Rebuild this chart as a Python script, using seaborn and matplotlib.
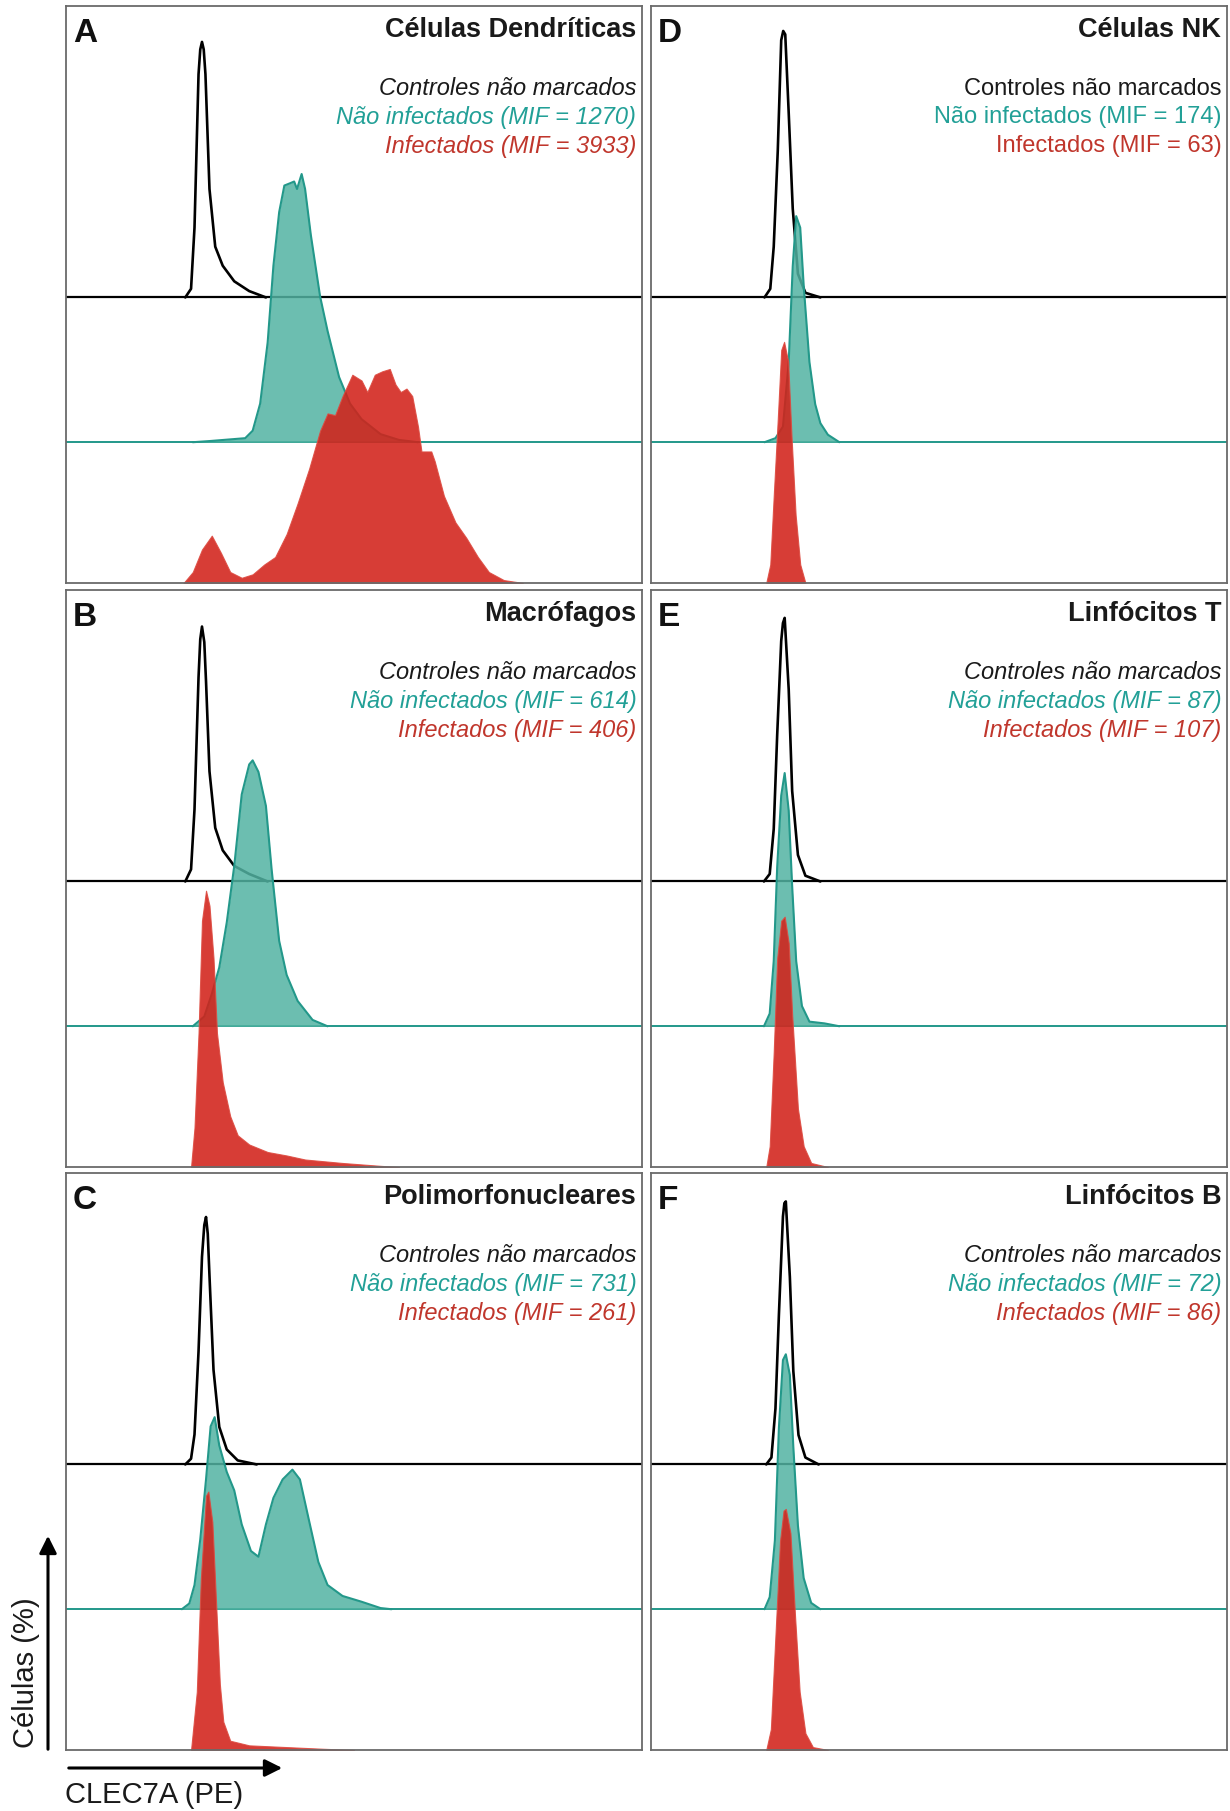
import matplotlib
matplotlib.use("Agg")
import matplotlib.pyplot as plt
import seaborn as sns

sns.set_style("white")
plt.rcParams["font.family"] = ["Liberation Sans", "DejaVu Sans"]
plt.rcParams["lines.solid_joinstyle"] = "round"
plt.rcParams["lines.solid_capstyle"] = "round"

letters = ["A", "B", "C", "D", "E", "F"]
titles = ["Células Dendríticas", "Macrófagos", "Polimorfonucleares",
          "Células NK", "Linfócitos T", "Linfócitos B"]
mif_uninf = [1270, 614, 731, 174, 87, 72]
mif_inf = [3933, 406, 261, 63, 107, 86]
italic_legend = [True, True, True, False, True, True]

# histogram outlines
# x = CLEC7A (PE) position, % of panel width ; y = cells, % of panel height
A_ctrl_x = [20.7, 21.7, 22.3, 23.0, 23.3, 23.6, 23.9, 24.2, 24.9, 25.9, 27.2, 29.2, 31.8, 34.7]
A_ctrl_y = [0, 1.5, 12.1, 38.7, 43.0, 44.3, 43.0, 38.7, 18.8, 8.8, 5.5, 2.8, 1.1, 0]
A_uninf_x = [22.0, 24.9, 31.1, 32.4, 33.7, 35.0, 36.0, 37.0, 37.9, 38.9, 39.6, 40.1, 40.9,
             41.5, 42.5, 44.1, 45.4, 47.4, 49.3, 51.3, 54.6, 57.8, 61.1]
A_uninf_y = [0, 0.2, 0.7, 2.0, 6.7, 17.3, 30.6, 39.9, 44.5, 44.9, 45.2, 43.9, 46.5,
             43.9, 35.9, 25.3, 19.3, 11.3, 6.7, 4.0, 1.4, 0.4, 0]
A_inf_x = [20.4, 22.0, 23.6, 25.3, 26.9, 28.5, 30.5, 32.4, 34.4, 36.3, 38.3, 40.2, 42.2,
           44.1, 45.4, 46.7, 48.0, 49.7, 51.3, 52.3, 53.6, 54.9, 56.2, 57.2, 58.1, 59.1,
           60.1, 61.1, 61.7, 63.4, 64.0, 65.6, 67.6, 69.5, 71.5, 73.4, 76.0, 79.3]
A_inf_y = [0, 1.9, 5.8, 8.2, 5.2, 1.9, 0.9, 1.5, 3.2, 4.5, 8.5, 13.8, 19.8,
           26.4, 29.4, 29.1, 32.4, 36.1, 35.1, 33.1, 36.1, 36.7, 37.1, 34.4, 33.1, 33.7,
           32.4, 27.1, 22.8, 22.8, 21.1, 15.1, 10.5, 7.8, 4.5, 1.9, 0.5, 0]

B_ctrl_x = [20.7, 21.7, 22.3, 23.0, 23.3, 23.6, 24.0, 24.3, 24.9, 25.9, 27.2, 29.2, 31.8, 35.0]
B_ctrl_y = [0, 2.1, 12.5, 35.4, 42.0, 44.2, 41.5, 34.7, 19.1, 9.3, 5.4, 2.7, 1.3, 0]
B_uninf_x = [22.0, 24.0, 25.3, 26.6, 27.9, 29.2, 30.5, 31.8, 32.4, 33.4, 34.7, 35.7,
             37.0, 38.3, 40.2, 42.8, 45.4]
B_uninf_y = [0, 1.7, 5.6, 10.2, 18.0, 27.8, 40.2, 45.4, 46.1, 44.1, 38.2, 27.1,
             14.8, 8.9, 4.4, 1.1, 0]
B_inf_x = [21.7, 22.3, 23.0, 23.6, 24.3, 24.9, 25.6, 26.2, 27.2, 28.5, 29.8, 31.8,
           35.0, 38.3, 41.5, 48.0, 54.6, 57.8]
B_inf_y = [0, 6.8, 23.2, 42.7, 47.9, 45.3, 36.2, 23.2, 14.7, 8.8, 5.5, 3.9,
           2.6, 2.0, 1.3, 0.7, 0.2, 0]

C_ctrl_x = [20.7, 21.7, 22.3, 23.0, 23.6, 24.0, 24.3, 24.6, 24.9, 25.6, 26.6, 27.9, 29.8, 33.1]
C_ctrl_y = [0, 1.0, 5.2, 19.6, 36.0, 41.5, 42.9, 40.0, 32.7, 16.4, 6.5, 2.6, 0.7, 0]
C_uninf_x = [20.1, 21.4, 22.3, 23.3, 24.3, 25.1, 25.8, 26.6, 27.9, 29.2, 30.5, 32.1,
             33.4, 34.7, 36.0, 37.6, 39.3, 40.6, 42.2, 43.8, 45.4, 48.0, 51.3, 54.6, 56.5]
C_uninf_y = [0, 1.0, 4.2, 12.1, 22.5, 31.7, 33.3, 28.4, 23.8, 20.6, 14.7, 10.1,
             9.1, 14.7, 19.3, 22.5, 24.2, 22.5, 15.3, 8.2, 4.2, 2.3, 1.3, 0.2, 0]
C_inf_x = [21.7, 22.7, 23.4, 24.3, 24.7, 25.4, 26.0, 26.7, 27.3, 28.5, 31.8, 38.3, 44.8, 50.0]
C_inf_y = [0, 10.1, 29.7, 44.1, 44.8, 39.5, 26.5, 11.4, 4.9, 1.6, 0.8, 0.5, 0.2, 0]

D_ctrl_x = [19.7, 20.7, 21.3, 22.0, 22.6, 22.95, 23.3, 23.9, 24.6, 25.5, 26.8, 29.4]
D_ctrl_y = [0, 1.5, 8.8, 25.4, 44.6, 46.2, 45.6, 32.0, 15.4, 4.1, 0.8, 0]
D_uninf_x = [19.7, 21.6, 22.9, 23.9, 24.6, 25.2, 25.9, 26.5, 27.5, 28.5, 29.4, 30.7, 32.7]
D_uninf_y = [0, 0.7, 2.7, 13.9, 30.5, 39.2, 37.2, 27.2, 13.9, 6.6, 3.3, 1.3, 0]
D_inf_x = [20.0, 20.7, 21.3, 22.0, 22.6, 23.1, 23.8, 24.4, 25.1, 25.9, 26.8]
D_inf_y = [0, 3.2, 15.1, 28.4, 40.4, 41.8, 38.4, 25.1, 11.8, 3.2, 0]

E_ctrl_x = [19.6, 20.6, 21.3, 21.9, 22.6, 22.9, 23.2, 23.9, 24.5, 25.5, 26.8, 29.4]
E_ctrl_y = [0, 1.3, 9.1, 25.4, 41.7, 44.8, 45.7, 33.3, 15.7, 4.6, 1.0, 0]
E_uninf_x = [19.6, 20.6, 21.3, 21.9, 22.6, 23.2, 23.9, 24.5, 25.2, 26.2, 27.5, 30.1, 32.7]
E_uninf_y = [0, 2.2, 11.3, 27.6, 40.0, 43.9, 37.4, 24.3, 11.3, 3.5, 0.8, 0.5, 0]
E_inf_x = [20.0, 20.6, 21.3, 21.9, 22.6, 23.2, 23.9, 24.5, 25.5, 26.5, 27.8, 30.7]
E_inf_y = [0, 3.6, 19.9, 36.2, 42.7, 43.4, 38.8, 26.4, 10.1, 3.6, 0.7, 0]

F_ctrl_x = [20.0, 20.9, 21.6, 22.2, 22.9, 23.15, 23.4, 24.1, 24.7, 25.6, 26.8, 29.1]
F_ctrl_y = [0, 1.2, 9.7, 26.0, 43.0, 45.3, 45.6, 32.5, 16.2, 5.1, 1.2, 0]
F_uninf_x = [19.7, 20.6, 21.5, 22.2, 22.9, 23.4, 24.1, 24.7, 25.5, 26.5, 27.8, 29.4]
F_uninf_y = [0, 2.1, 11.9, 31.5, 43.2, 44.2, 40.6, 28.2, 14.5, 5.4, 1.1, 0]
F_inf_x = [20.0, 20.8, 21.6, 22.4, 23.0, 23.4, 24.2, 25.0, 25.8, 26.8, 28.1, 30.7]
F_inf_y = [0, 3.6, 19.9, 36.3, 41.5, 41.8, 37.6, 23.2, 10.1, 2.9, 0.5, 0]

ctrl = [(A_ctrl_x, A_ctrl_y), (B_ctrl_x, B_ctrl_y), (C_ctrl_x, C_ctrl_y),
        (D_ctrl_x, D_ctrl_y), (E_ctrl_x, E_ctrl_y), (F_ctrl_x, F_ctrl_y)]
uninf = [(A_uninf_x, A_uninf_y), (B_uninf_x, B_uninf_y), (C_uninf_x, C_uninf_y),
         (D_uninf_x, D_uninf_y), (E_uninf_x, E_uninf_y), (F_uninf_x, F_uninf_y)]
inf = [(A_inf_x, A_inf_y), (B_inf_x, B_inf_y), (C_inf_x, C_inf_y),
       (D_inf_x, D_inf_y), (E_inf_x, E_inf_y), (F_inf_x, F_inf_y)]

# offsets of the stacked histograms
off_ctrl = 49.5
off_uninf = 24.4

teal_fill = "#52b3a2"
teal_line = "#23988a"
teal_text = "#22a097"
red_fill = "#d2221a"
red_text = "#c0362c"

fig = plt.figure(figsize=(12.3, 18.11), dpi=100)

# panel boxes in figure fraction
lefts = [0.0537, 0.0537, 0.0537, 0.5293, 0.5293, 0.5293]
bottoms = [0.6781, 0.3556, 0.0337, 0.6781, 0.3556, 0.0337]
w, h = 0.4683, 0.3185

for i in range(6):
    ax = fig.add_axes([lefts[i], bottoms[i], w, h])
    ax.set_xlim(0, 100)
    ax.set_ylim(0, 100)
    ax.set_xticks([])
    ax.set_yticks([])
    for s in ax.spines.values():
        s.set_color("#6a6a6a")
        s.set_linewidth(1.3)
        s.set_zorder(6)

    # control (no fill)
    cx, cy = ctrl[i]
    ax.axhline(off_ctrl, color="black", lw=1.6, zorder=2)
    sns.lineplot(x=cx, y=[v + off_ctrl for v in cy], ax=ax, color="black", lw=1.9,
                 estimator=None, sort=False, zorder=2)

    # uninfected
    ux, uy = uninf[i]
    ax.axhline(off_uninf, color=teal_line, lw=1.4, zorder=3)
    ax.fill_between(ux, off_uninf, [v + off_uninf for v in uy], color=teal_fill,
                    alpha=0.85, lw=0, zorder=3)
    sns.lineplot(x=ux, y=[v + off_uninf for v in uy], ax=ax, color=teal_line, lw=1.5,
                 estimator=None, sort=False, zorder=3.5)

    # infected
    rx, ry = inf[i]
    ax.fill_between(rx, 0, ry, color=red_fill, alpha=0.88, lw=0.8,
                    edgecolor="#dd4a40", zorder=4)

    # texts
    ax.text(0.012, 0.953, letters[i], transform=ax.transAxes, fontsize=24,
            fontweight="bold", ha="left", va="center", color="#111111")
    ax.text(0.99, 0.958, titles[i], transform=ax.transAxes, fontsize=19.5,
            fontweight="bold", ha="right", va="center", color="#1a1a1a")
    style = "italic" if italic_legend[i] else "normal"
    ax.text(0.99, 0.857, "Controles não marcados", transform=ax.transAxes,
            fontsize=17, style=style, ha="right", va="center", color="#1a1a1a")
    ax.text(0.99, 0.807, f"Não infectados (MIF = {mif_uninf[i]})", transform=ax.transAxes,
            fontsize=17, style=style, ha="right", va="center", color=teal_text)
    ax.text(0.99, 0.757, f"Infectados (MIF = {mif_inf[i]})", transform=ax.transAxes,
            fontsize=17, style=style, ha="right", va="center", color=red_text)

# axis arrows and labels in pixel space
ov = fig.add_axes([0, 0, 1, 1], facecolor="none")
ov.set_xlim(0, 1230)
ov.set_ylim(1811, 0)
ov.axis("off")
ov.annotate("", xy=(48, 1533), xytext=(48, 1752),
            arrowprops=dict(arrowstyle="-|>", mutation_scale=26, lw=2.2, color="black"))
ov.annotate("", xy=(285, 1768), xytext=(66, 1768),
            arrowprops=dict(arrowstyle="-|>", mutation_scale=26, lw=2.2, color="black"))
ov.text(26, 1673, "Células (%)", rotation=90, fontsize=21, ha="center", va="center",
        color="#1a1a1a")
ov.text(65, 1795, "CLEC7A (PE)", fontsize=21, ha="left", va="center", color="#1a1a1a")

fig.savefig("out.png", dpi=100)
